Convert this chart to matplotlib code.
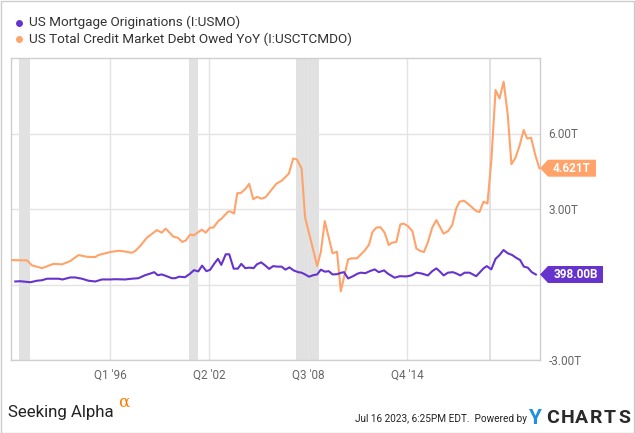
import matplotlib
matplotlib.use("Agg")
import matplotlib.pyplot as plt
from matplotlib.patches import Polygon, Rectangle
from matplotlib.transforms import IdentityTransform
from matplotlib import font_manager

names = {f.name for f in font_manager.fontManager.ttflist}
NARROW = "Liberation Sans Narrow" if "Liberation Sans Narrow" in names else "Roboto"
plt.rcParams['font.family'] = ['Roboto', 'DejaVu Sans']

# ---------------- data ----------------
orange_years = [1990.04, 1991.03, 1991.34, 1991.97, 1992.70, 1993.23, 1993.75, 1994.28, 1994.80,
                1995.33, 1995.53, 1996.27, 1996.79, 1997.21, 1997.63, 1997.84, 1998.16, 1998.58,
                1999.21, 1999.52, 1999.77, 2000.25, 2000.53, 2000.82, 2001.03, 2001.30, 2001.55,
                2002.04, 2002.29, 2002.56, 2002.77, 2003.08, 2003.29, 2003.67, 2003.82, 2004.07,
                2004.28, 2004.49, 2004.76, 2005.03, 2005.28, 2005.53, 2005.81, 2006.06, 2006.33,
                2006.75, 2007.07, 2007.53, 2007.80, 2008.03, 2008.33, 2008.55, 2008.87, 2009.31,
                2009.54, 2009.79, 2010.28, 2010.56, 2010.80, 2011.26, 2011.47, 2011.82, 2012.31,
                2012.58, 2012.79, 2013.04, 2013.29, 2013.56, 2013.82, 2014.02, 2014.30, 2014.55,
                2014.76, 2015.03, 2015.31, 2015.56, 2015.81, 2016.04, 2016.29, 2016.56, 2016.82,
                2017.02, 2017.28, 2017.55, 2017.82, 2018.07, 2018.28, 2018.56, 2018.85, 2019.16,
                2019.35, 2019.54, 2019.79, 2020.04, 2020.29, 2020.55, 2020.80, 2021.06, 2021.32,
                2021.55, 2021.80, 2022.07, 2022.32, 2022.54, 2022.79, 2023.06, 2023.31]
orange_vals = [0.97, 0.96, 0.76, 0.65, 0.82, 0.80, 0.93, 1.17, 1.10,
               1.09, 1.17, 1.29, 1.34, 1.31, 1.26, 1.33, 1.53, 1.86,
               2.16, 2.06, 2.22, 1.90, 1.86, 1.69, 1.75, 1.98, 1.96,
               2.18, 2.06, 2.26, 2.26, 2.52, 2.62, 2.88, 2.91, 2.82,
               3.63, 3.63, 3.78, 4.00, 3.39, 3.48, 3.41, 3.47, 3.68,
               4.01, 4.12, 4.41, 5.01, 4.97, 4.61, 2.66, 1.86, 0.73,
               1.29, 2.52, 1.24, 1.30, -0.27, 1.00, 1.04, 1.04, 1.35,
               1.59, 2.08, 2.26, 2.28, 2.06, 1.57, 1.66, 1.69, 2.39,
               2.42, 2.32, 2.12, 1.43, 1.33, 1.29, 1.69, 2.26, 2.56,
               2.32, 2.02, 2.12, 2.36, 3.02, 3.29, 3.33, 3.19, 3.01,
               2.91, 2.88, 3.29, 3.22, 4.98, 7.73, 7.39, 8.06, 6.73,
               4.78, 5.03, 5.53, 6.14, 5.80, 5.83, 5.13, 4.621]

purple_years = [1990.29, 1990.61, 1991.24, 1991.66, 1991.97, 1992.29, 1993.02, 1993.27, 1993.75,
                1994.07, 1994.49, 1994.90, 1995.33, 1995.75, 1996.27, 1996.58, 1997.21, 1997.63,
                1998.05, 1998.47, 1998.78, 1999.04, 1999.27, 1999.52, 1999.83, 2000.15, 2000.36,
                2000.61, 2000.99, 2001.30, 2001.55, 2001.82, 2002.06, 2002.33, 2002.56, 2002.84,
                2003.06, 2003.27, 2003.55, 2003.77, 2004.05, 2004.31, 2004.53, 2004.78, 2005.04,
                2005.31, 2005.51, 2005.78, 2006.05, 2006.28, 2006.54, 2006.80, 2007.07, 2007.31,
                2007.56, 2007.83, 2008.12, 2008.33, 2008.55, 2008.80, 2009.06, 2009.31, 2009.54,
                2009.79, 2010.04, 2010.28, 2010.56, 2010.84, 2011.00, 2011.26, 2011.57, 2011.85,
                2012.06, 2012.35, 2012.62, 2012.94, 2013.19, 2013.52, 2013.77, 2014.19, 2014.51,
                2014.93, 2015.24, 2015.56, 2015.87, 2016.29, 2016.56, 2016.82, 2017.02, 2017.28,
                2017.55, 2017.86, 2018.11, 2018.33, 2018.60, 2018.91, 2019.12, 2019.33, 2019.54,
                2019.79, 2020.00, 2020.28, 2020.55, 2020.80, 2021.05, 2021.32, 2021.60, 2021.85,
                2022.10, 2022.33, 2022.58, 2022.83, 2023.09]
purple_vals = [0.12, 0.13, 0.09, 0.15, 0.17, 0.23, 0.23, 0.20, 0.28,
               0.28, 0.23, 0.15, 0.12, 0.20, 0.20, 0.21, 0.20, 0.23,
               0.25, 0.37, 0.43, 0.49, 0.37, 0.40, 0.33, 0.25, 0.25,
               0.31, 0.29, 0.43, 0.57, 0.52, 0.75, 0.53, 0.58, 0.84,
               1.02, 0.78, 1.20, 1.20, 0.63, 0.63, 0.82, 0.65, 0.67,
               0.65, 0.80, 0.88, 0.75, 0.62, 0.73, 0.71, 0.71, 0.59,
               0.68, 0.56, 0.49, 0.47, 0.40, 0.31, 0.37, 0.40, 0.59,
               0.51, 0.53, 0.40, 0.41, 0.47, 0.49, 0.24, 0.33, 0.43,
               0.47, 0.45, 0.53, 0.60, 0.49, 0.56, 0.43, 0.27, 0.33,
               0.32, 0.36, 0.47, 0.44, 0.36, 0.53, 0.64, 0.53, 0.36,
               0.47, 0.49, 0.43, 0.36, 0.47, 0.47, 0.40, 0.33, 0.47,
               0.64, 0.73, 0.60, 1.02, 1.17, 1.37, 1.24, 1.17, 1.06,
               0.97, 0.71, 0.67, 0.49, 0.398]

recessions = [(1990.50, 1991.19), (2001.24, 2001.82), (2007.97, 2009.41), (2020.12, 2020.25)]

xtick_pos = [1996.25, 2002.50, 2008.75, 2015.00]
xtick_labels = ["Q1 '96", "Q2 '02", "Q3 '08", "Q4 '14"]
ytick_pos = [-3, 0, 3, 6]
ytick_labels = ["-3.00T", "", "3.00T", "6.00T"]

series_names = ["US Mortgage Originations (I:USMO)", "US Total Credit Market Debt Owed YoY (I:USCTCMDO)"]
last_labels = ["398.00B", "4.621T"]

PURPLE = "#6633CC"
ORANGE = "#FFA36B"
GRID = "#E3E3E3"
FRAME = "#CFCFCF"

W, H = 635, 433
fig = plt.figure(figsize=(W / 100, H / 100), dpi=100)
ax = fig.add_axes([11 / W, 1 - 360 / H, (540 - 11) / W, (360 - 58) / H])

for a, b in recessions:
    ax.axvspan(a, b, color="#E1E1E1", lw=0, zorder=0.5)

ax.plot(orange_years, orange_vals, color=ORANGE, lw=1.5, zorder=3, solid_joinstyle="round")
ax.plot(purple_years, purple_vals, color=PURPLE, lw=1.5, zorder=3, solid_joinstyle="round")

ax.set_xlim(1990.02, 2023.35)
ax.set_ylim(-3, 9)
ax.set_xticks(xtick_pos)
ax.set_xticklabels(xtick_labels)
ax.set_yticks(ytick_pos)
ax.set_yticklabels(ytick_labels)
ax.yaxis.tick_right()
ax.tick_params(axis="both", length=0, labelsize=8.5, labelcolor="#666666")
ax.tick_params(axis="y", pad=6)
ax.tick_params(axis="x", pad=6)
ax.grid(True, color=GRID, lw=1.0, zorder=0)
ax.set_axisbelow(True)
for s in ax.spines.values():
    s.set_color(FRAME)
    s.set_linewidth(1.0)

# value tags
fig.canvas.draw()
tags = [(purple_years[-1], purple_vals[-1], PURPLE, last_labels[0], 63),
        (orange_years[-1], orange_vals[-1], ORANGE, last_labels[1], 56)]
for xv, yv, col, txt, wd in tags:
    _, yd = ax.transData.transform((xv, yv))
    xd = ax.transAxes.transform((1.0, 0))[0]
    hh = 8.5
    verts = [(xd, yd), (xd + 8, yd + hh), (xd + wd, yd + hh), (xd + wd, yd - hh), (xd + 8, yd - hh)]
    poly = Polygon(verts, closed=True, transform=IdentityTransform(), facecolor=col,
                   edgecolor="none", zorder=10)
    fig.add_artist(poly)
    fig.text((xd + 8 + (wd - 8) / 2) / W, yd / H, txt, color="white", fontsize=8.5,
             fontweight="bold", ha="center", va="center", zorder=11)

# legend
for i, (name, col) in enumerate(zip(series_names, [PURPLE, ORANGE])):
    yy = 1 - (22.7 + 16.6 * i) / H
    fig.add_artist(plt.Line2D([19 / W], [yy], marker="o", markersize=5, color=col,
                              markeredgewidth=0, transform=fig.transFigure))
    fig.text(29 / W, yy, name, fontsize=9.7, color="#333333", va="center", ha="left")

# footer
fig.text(8 / W, 1 - 412 / H, "Seeking Alpha", fontsize=12.2, color="#222222", va="center",
         ha="left", family=NARROW)
fig.text(118 / W, 1 - 402 / H, "\u03b1", fontsize=12, color="#FF7A00", va="center", ha="left",
         family=["DejaVu Serif"])
fig.text(527 / W, 1 - 419 / H, "Jul 16 2023, 6:25PM EDT.  Powered by", fontsize=7.2, color="#222222",
         va="center", ha="right", family=NARROW)
fig.text(528 / W, 1 - 418 / H, "Y", fontsize=15, color="#1E90DC", va="center", ha="left",
         fontweight="bold")
for j, ch in enumerate("CHARTS"):
    fig.text((553 + j * 14.2) / W, 1 - 418 / H, ch, fontsize=14, color="#2A2A2A", va="center",
             ha="center", fontweight="bold")

# outer border
fig.add_artist(Rectangle((0.5 / W, 0.5 / H), (W - 1.5) / W, (H - 1.5) / H, transform=fig.transFigure,
                         fill=False, edgecolor="#CCCCCC", lw=1.0))

fig.savefig("out.png", dpi=100)
